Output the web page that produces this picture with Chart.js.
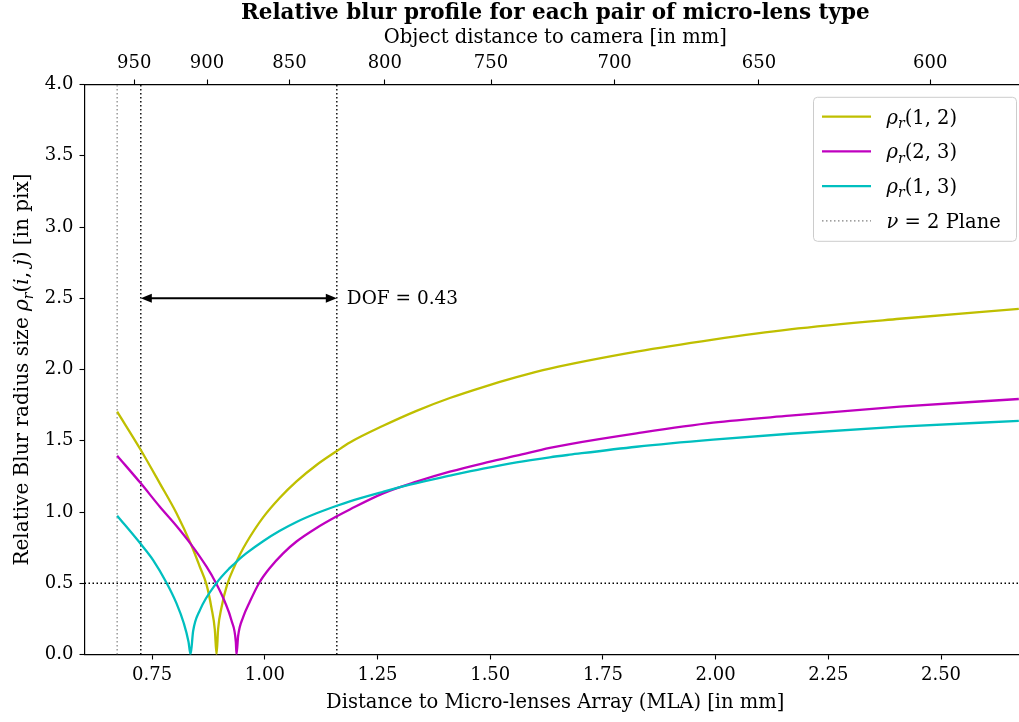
<!DOCTYPE html>
<html>
<head>
<meta charset="utf-8">
<title>Relative blur profile</title>
<script src="https://cdn.jsdelivr.net/npm/chart.js@4.4.1/dist/chart.umd.min.js"></script>
<style>
  html, body { margin: 0; padding: 0; background: #fff; overflow: hidden; }
  #wrap { width: 1026px; height: 722px; }
</style>
</head>
<body>
<div id="wrap"><canvas id="blur-chart" width="1026" height="722"></canvas></div>
<script>
// Distance to MLA [mm] / relative blur [pix]
const dist12 = [0.6724, 0.7249, 0.7671, 0.8041, 0.8359, 0.8558, 0.8707, 0.8818, 0.8891, 0.8929,
  0.8964, 0.9039, 0.9164, 0.9335, 0.9445, 0.9594, 0.9962, 1.0333, 1.0703, 1.1147, 1.1597,
  1.1886, 1.2624, 1.3365, 1.4104, 1.4843, 1.5583, 1.6322, 1.8245, 1.9945, 2.1646, 2.4086, 2.6726];
const rho12 = [1.704, 1.435, 1.201, 0.991, 0.775, 0.616, 0.490, 0.325, 0.175, 0.000,
  0.180, 0.330, 0.490, 0.625, 0.700, 0.786, 0.962, 1.100, 1.215, 1.330, 1.428,
  1.488, 1.605, 1.710, 1.800, 1.877, 1.946, 2.006, 2.125, 2.210, 2.282, 2.356, 2.425];

const dist23 = [0.6724, 0.7249, 0.7671, 0.8041, 0.8359, 0.8707, 0.8913, 0.9113, 0.9261, 0.9357,
  0.9372, 0.9408, 0.9519, 0.9667, 0.9874, 1.0111, 1.0406, 1.0703, 1.1147, 1.1597, 1.1886,
  1.2624, 1.3365, 1.4104, 1.4843, 1.5583, 1.6322, 1.6766, 1.8245, 1.9945, 2.1646, 2.4086, 2.6726];
const rho23 = [1.395, 1.201, 1.037, 0.902, 0.775, 0.616, 0.504, 0.370, 0.238, 0.088,
  0.000, 0.130, 0.262, 0.370, 0.502, 0.607, 0.710, 0.793, 0.888, 0.970, 1.018,
  1.131, 1.213, 1.283, 1.342, 1.395, 1.450, 1.477, 1.552, 1.627, 1.676, 1.739, 1.793];

const dist13 = [0.6724, 0.7249, 0.7522, 0.7819, 0.8041, 0.8203, 0.8307, 0.8352,
  0.8410, 0.8558, 0.8929, 0.9224, 0.9335, 0.9445, 0.9594, 0.9962, 1.0333, 1.0703, 1.1147,
  1.1597, 1.1886, 1.2624, 1.3217, 1.4104, 1.4843, 1.5583, 1.6322, 1.6766, 1.8245, 1.9945,
  2.1646, 2.4086, 2.6726];
const rho13 = [0.974, 0.775, 0.663, 0.504, 0.359, 0.219, 0.090, 0.000,
  0.165, 0.310, 0.502, 0.608, 0.640, 0.672, 0.711, 0.795, 0.868, 0.930, 0.991,
  1.044, 1.075, 1.142, 1.192, 1.255, 1.305, 1.349, 1.384, 1.402, 1.458, 1.508,
  1.549, 1.599, 1.639];

// axes
const xRange = [0.6, 2.6885];
const yRange = [0, 4];
const bottomTicks = [0.75, 1.00, 1.25, 1.50, 1.75, 2.00, 2.25, 2.50];
const yTicks = [0, 0.5, 1.0, 1.5, 2.0, 2.5, 3.0, 3.5, 4.0];
// object distance axis (top): where each label sits on the MLA-distance scale
const topTickPos = [0.7103, 0.8718, 1.0546, 1.2662, 1.5018, 1.7760, 2.0961, 2.4760];
const topTickLabels = [950, 900, 850, 800, 750, 700, 650, 600];

// reference markers
const nuPlane = 0.6724;
const dofStart = 0.7249;
const dofEnd = 1.1597;
const blurThreshold = 0.5;
const dofArrowY = 2.5;

const SERIF = "'DejaVu Serif', serif";

function toPoints(xs, ys) {
  return xs.map((x, i) => ({ x: x, y: ys[i] }));
}

function vline(x) {
  return [{ x: x, y: yRange[0] }, { x: x, y: yRange[1] }];
}

// draws text made of parts: [text, italic, subscript]
function drawRich(ctx, parts, x, y, size, align) {
  const fontFor = p => (p[1] ? 'italic ' : '') + (p[2] ? Math.round(size * 0.7) : size) + 'px ' + SERIF;
  let total = 0;
  parts.forEach(p => { ctx.font = fontFor(p); total += ctx.measureText(p[0]).width; });
  let cx = align === 'center' ? x - total / 2 : x;
  ctx.textAlign = 'left';
  ctx.textBaseline = 'alphabetic';
  ctx.fillStyle = '#000';
  const base = y + size * 0.36;
  parts.forEach(p => {
    ctx.font = fontFor(p);
    ctx.fillText(p[0], cx, base + (p[2] ? size * 0.22 : 0));
    cx += ctx.measureText(p[0]).width;
  });
}

const yTitleParts = [['Relative Blur radius size ', 0], ['\u03C1', 1], ['r', 1, 1], ['(', 0], ['i', 1],
  [', ', 0], ['j', 1], [') [in pix]', 0]];

const overlayPlugin = {
  id: 'overlay',
  afterDatasetsDraw(chart) {
    const { ctx, chartArea, scales } = chart;
    const xa = scales.x.getPixelForValue(dofStart);
    const xb = scales.x.getPixelForValue(dofEnd);
    const ya = scales.y.getPixelForValue(dofArrowY);

    ctx.save();
    // DOF double arrow
    ctx.strokeStyle = '#000';
    ctx.fillStyle = '#000';
    ctx.lineWidth = 2;
    ctx.beginPath();
    ctx.moveTo(xa + 8, ya);
    ctx.lineTo(xb - 8, ya);
    ctx.stroke();
    [[xa, 1], [xb, -1]].forEach(([px, dir]) => {
      ctx.beginPath();
      ctx.moveTo(px, ya);
      ctx.lineTo(px + dir * 11, ya - 4.5);
      ctx.lineTo(px + dir * 11, ya + 4.5);
      ctx.closePath();
      ctx.fill();
    });
    ctx.font = '18.5px ' + SERIF;
    ctx.textAlign = 'left';
    ctx.textBaseline = 'middle';
    ctx.fillText('DOF = ' + (dofEnd - dofStart).toFixed(2), xb + 10, ya + 1);

    // legend box, upper right inside the axes
    const w = 203, h = 144;
    const x0 = chartArea.right - 9.5 - w;
    const y0 = chartArea.top + 12.8;
    ctx.beginPath();
    if (ctx.roundRect) ctx.roundRect(x0, y0, w, h, 4); else ctx.rect(x0, y0, w, h);
    ctx.fillStyle = 'rgba(255,255,255,0.8)';
    ctx.fill();
    ctx.strokeStyle = '#cccccc';
    ctx.lineWidth = 1;
    ctx.stroke();

    const items = chart.data.datasets.filter(d => d.legendParts)
      .sort((a, b) => a.legendRank - b.legendRank);
    items.forEach((d, i) => {
      const yy = y0 + 19.4 + i * 34.7;
      ctx.beginPath();
      ctx.moveTo(x0 + 8.5, yy);
      ctx.lineTo(x0 + 57.5, yy);
      ctx.strokeStyle = d.borderColor;
      ctx.lineWidth = d.borderWidth;
      ctx.setLineDash(d.borderDash || []);
      ctx.stroke();
      ctx.setLineDash([]);
      drawRich(ctx, d.legendParts, x0 + 73, yy, 19.5, 'left');
    });
    ctx.restore();
  },
  afterDraw(chart) {
    const { ctx, chartArea } = chart;
    ctx.save();
    ctx.fillStyle = '#000';
    ctx.font = 'bold 21.5px ' + SERIF;
    ctx.textAlign = 'center';
    ctx.textBaseline = 'middle';
    ctx.fillText('Relative blur profile for each pair of micro-lens type', (chartArea.left + chartArea.right) / 2, 13);

    ctx.translate(21, (chartArea.top + chartArea.bottom) / 2);
    ctx.rotate(-Math.PI / 2);
    drawRich(ctx, yTitleParts, 0, 0, 20, 'center');
    ctx.restore();
  }
};

const tickFont = { family: SERIF, size: 18 };
const titleFont = { family: SERIF, size: 19.5 };
const axisBorder = { display: true, color: '#000', width: 1.2 };
const axisGrid = { drawOnChartArea: false, drawTicks: true, tickLength: 5, tickColor: '#000', tickWidth: 1.1 };

const curve = (points, color, order, parts, rank) => ({
  data: points,
  borderColor: color,
  borderWidth: 2.3,
  pointRadius: 0,
  cubicInterpolationMode: 'monotone',
  order: order,
  legendParts: parts,
  legendRank: rank
});

const refLine = (data, color, rank) => ({
  data: data,
  borderColor: color,
  borderWidth: 1.4,
  borderDash: [1.5, 2.5],
  pointRadius: 0,
  tension: 0,
  order: 5,
  legendRank: rank
});

new Chart(document.getElementById('blur-chart'), {
  type: 'line',
  data: {
    datasets: [
      curve(toPoints(dist12, rho12), '#bfbf00', 3, [['\u03C1', 1], ['r', 1, 1], ['(1, 2)', 0]], 0),
      curve(toPoints(dist23, rho23), '#bf00bf', 2, [['\u03C1', 1], ['r', 1, 1], ['(2, 3)', 0]], 1),
      curve(toPoints(dist13, rho13), '#00bfbf', 1, [['\u03C1', 1], ['r', 1, 1], ['(1, 3)', 0]], 2),
      Object.assign(refLine(vline(nuPlane), '#808080', 3), { borderWidth: 1.2, legendParts: [['\u03BD', 1], [' = 2 Plane', 0]] }),
      refLine(vline(dofStart), '#000'),
      refLine(vline(dofEnd), '#000'),
      refLine([{ x: xRange[0], y: blurThreshold }, { x: xRange[1], y: blurThreshold }], '#000')
    ]
  },
  options: {
    responsive: false,
    animation: false,
    layout: { padding: 0 },
    plugins: {
      legend: { display: false },
      tooltip: { enabled: false },
      title: { display: false }
    },
    scales: {
      x: {
        type: 'linear',
        position: 'bottom',
        min: xRange[0],
        max: xRange[1],
        border: axisBorder,
        grid: axisGrid,
        afterBuildTicks: axis => { axis.ticks = bottomTicks.map(v => ({ value: v })); },
        afterFit: axis => { axis.height = 67.5; },
        ticks: {
          autoSkip: false, maxRotation: 0, padding: 5, color: '#000', font: tickFont,
          callback: v => Number(v).toFixed(2)
        },
        title: {
          display: true, text: 'Distance to Micro-lenses Array (MLA) [in mm]', color: '#000',
          font: titleFont, padding: { top: 0, bottom: 7 }
        }
      },
      xTop: {
        type: 'linear',
        position: 'top',
        min: xRange[0],
        max: xRange[1],
        border: axisBorder,
        grid: axisGrid,
        afterBuildTicks: axis => { axis.ticks = topTickPos.map(v => ({ value: v })); },
        afterFit: axis => { axis.height = 84.5; },
        ticks: {
          autoSkip: false, maxRotation: 0, padding: 5, color: '#000', font: tickFont,
          callback: (v, i) => String(topTickLabels[i])
        },
        title: {
          display: true, text: 'Object distance to camera [in mm]', color: '#000',
          font: titleFont, padding: { top: 26, bottom: 0 }
        }
      },
      y: {
        type: 'linear',
        position: 'left',
        min: yRange[0],
        max: yRange[1],
        border: axisBorder,
        grid: axisGrid,
        afterBuildTicks: axis => { axis.ticks = yTicks.map(v => ({ value: v })); },
        afterFit: axis => { axis.width = 84.5; },
        ticks: {
          autoSkip: false, padding: 6, color: '#000', font: tickFont,
          callback: v => Number(v).toFixed(1)
        }
      }
    }
  },
  plugins: [overlayPlugin]
});
</script>
</body>
</html>
